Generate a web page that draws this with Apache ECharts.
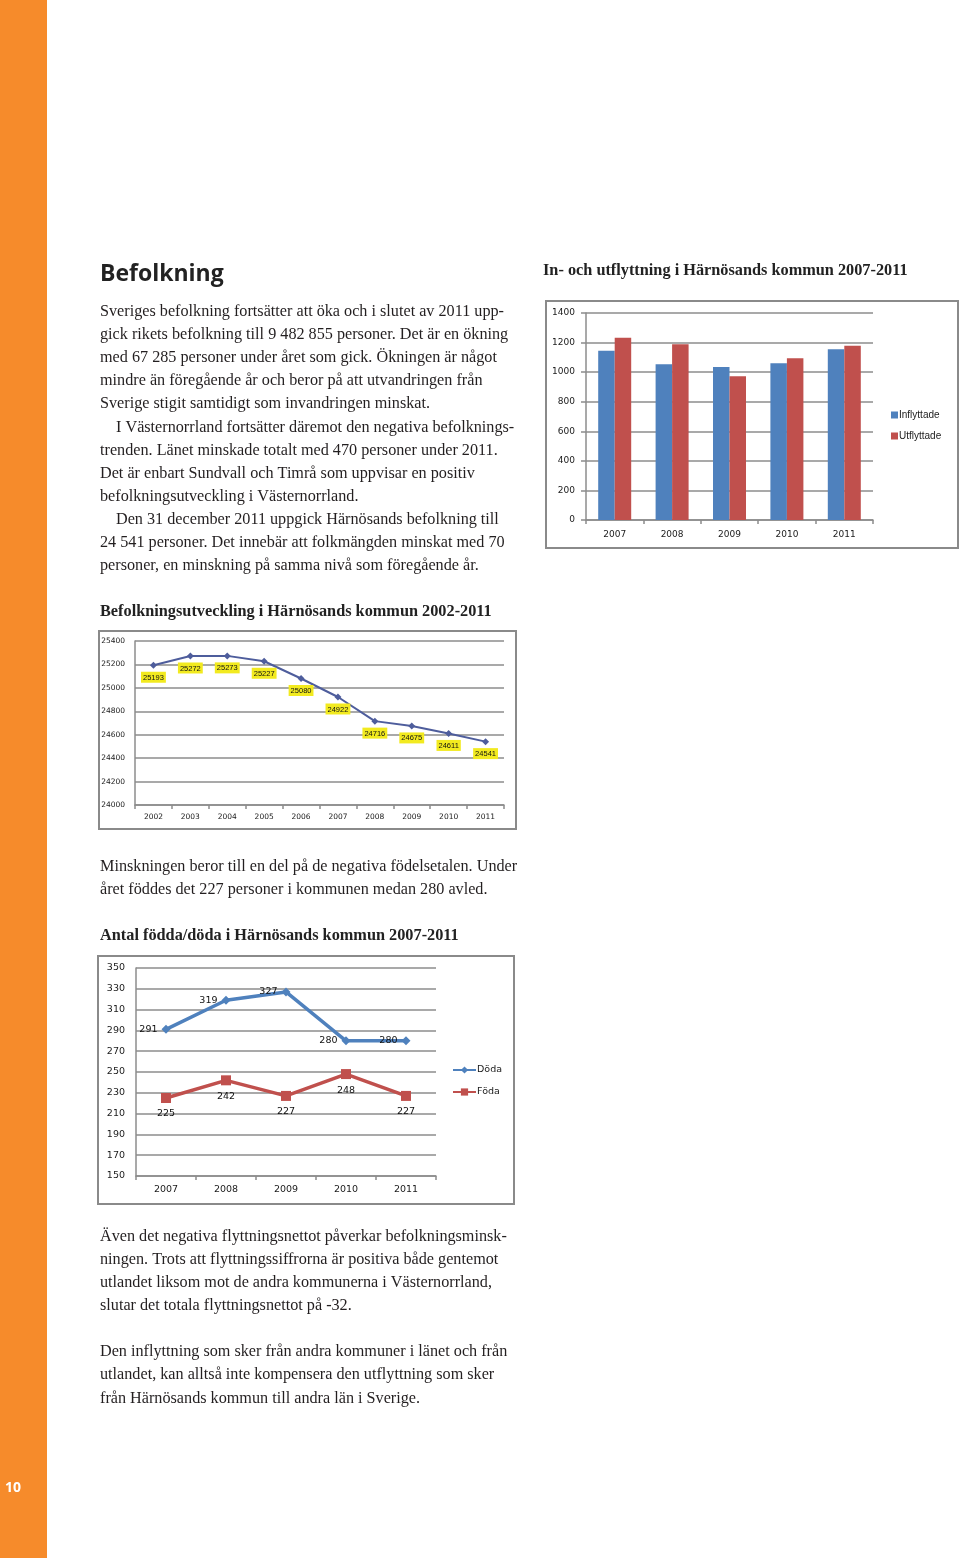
<!DOCTYPE html>
<html><head><meta charset="utf-8">
<script src="https://cdn.jsdelivr.net/npm/echarts@6/dist/echarts.min.js"></script>
<style>html,body{margin:0;padding:0;background:#fff}#c{width:960px;height:1558px}</style>
</head><body><div id="c"></div>
<script>
// ---- data ----
const barYears = ['2007', '2008', '2009', '2010', '2011'];
const inflyttade = [1145, 1053, 1035, 1060, 1155];
const utflyttade = [1233, 1188, 972, 1094, 1179];
const barTicks = [0, 200, 400, 600, 800, 1000, 1200, 1400];

const popYears = ['2002', '2003', '2004', '2005', '2006', '2007', '2008', '2009', '2010', '2011'];
const population = [25193, 25272, 25273, 25227, 25080, 24922, 24716, 24675, 24611, 24541];
const popTicks = [24000, 24200, 24400, 24600, 24800, 25000, 25200, 25400];

const vitalYears = ['2007', '2008', '2009', '2010', '2011'];
const doda = [291, 319, 327, 280, 280];
const foda = [225, 242, 227, 248, 227];
const vitalTicks = [150, 170, 190, 210, 230, 250, 270, 290, 310, 330, 350];

const heading = 'Befolkning';
const para1 = [
  ['Sveriges befolkning fortsätter att öka och i slutet av 2011 upp-', 0],
  ['gick rikets befolkning till 9 482 855 personer. Det är en ökning', 0],
  ['med 67 285 personer under året som gick. Ökningen är något', 0],
  ['mindre än föregående år och beror på att utvandringen från', 0],
  ['Sverige stigit samtidigt som invandringen minskat.', 0],
  ['I Västernorrland fortsätter däremot den negativa befolknings-', 16],
  ['trenden. Länet minskade totalt med 470 personer under 2011.', 0],
  ['Det är enbart Sundvall och Timrå som uppvisar en positiv', 0],
  ['befolkningsutveckling i Västernorrland.', 0],
  ['Den 31 december 2011 uppgick Härnösands befolkning till', 16],
  ['24 541 personer. Det innebär att folkmängden minskat med 70', 0],
  ['personer, en minskning på samma nivå som föregående år.', 0]
];
const para2 = [
  'Minskningen beror till en del på de negativa födelsetalen. Under',
  'året föddes det 227 personer i kommunen medan 280 avled.'
];
const para3 = [
  'Även det negativa flyttningsnettot påverkar befolkningsminsk-',
  'ningen. Trots att flyttningssiffrorna är positiva både gentemot',
  'utlandet liksom mot de andra kommunerna i Västernorrland,',
  'slutar det totala flyttningsnettot på -32.'
];
const para4 = [
  'Den inflyttning som sker från andra kommuner i länet och från',
  'utlandet, kan alltså inte kompensera den utflyttning som sker',
  'från Härnösands kommun till andra län i Sverige.'
];
const title1 = 'In- och utflyttning i Härnösands kommun 2007-2011';
const title2 = 'Befolkningsutveckling i Härnösands kommun 2002-2011';
const title3 = 'Antal födda/döda i Härnösands kommun 2007-2011';
const pageNo = '10';

// ---- styles ----
const SERIF = '"Liberation Serif", "DejaVu Serif", serif';
const BODY_SIZE = 16.2;
const TXT = '#231f20';
const GRIDC = '#8c8c8c';
const AX = '#1a1a1a';

const graphics = [];
graphics.push({type: 'rect', shape: {x: 0, y: 0, width: 47, height: 1558}, style: {fill: '#f68b2b'}, silent: true});
graphics.push({type: 'text', x: 5, y: 1488, style: {text: pageNo, fill: '#fff', font: 'bold 14px "Open Sans", sans-serif', textVerticalAlign: 'middle'}});
graphics.push({type: 'text', x: 100, y: 274, style: {text: heading, fill: '#222', font: 'bold 23px "Open Sans", sans-serif', textVerticalAlign: 'middle'}});
function addLines(lines, x0, y0, lh) {
  lines.forEach((l, i) => {
    const t = Array.isArray(l) ? l[0] : l;
    const dx = Array.isArray(l) ? l[1] : 0;
    graphics.push({type: 'text', x: x0 + dx, y: y0 + i * lh,
      style: {text: t, fill: TXT, font: BODY_SIZE + 'px ' + SERIF, textVerticalAlign: 'middle'}});
  });
}
addLines(para1, 100, 312, 23.05);
addLines(para2, 100, 867, 23);
addLines(para3, 100, 1237, 23);
addLines(para4, 100, 1352, 23.2);
function addTitle(t, x, y) {
  graphics.push({type: 'text', x: x, y: y, style: {text: t, fill: '#222', font: 'bold 16.3px ' + SERIF, textVerticalAlign: 'middle'}});
}
addTitle(title1, 543, 271);
addTitle(title2, 100, 612);
addTitle(title3, 100, 936);
function addBox(x, y, w, h) {
  graphics.push({type: 'rect', shape: {x: x, y: y, width: w, height: h}, style: {fill: 'none', stroke: '#8a8a8a', lineWidth: 2}, silent: true});
}
addBox(546, 301, 412, 247);
addBox(99, 631, 417, 198);
addBox(98, 956, 416, 248);

const plain = v => String(v);
function catAxis(idx, data, fs, margin) {
  return {type: 'category', gridIndex: idx, data: data, boundaryGap: true,
    axisLine: {show: true, lineStyle: {color: GRIDC, width: 1.5}},
    axisTick: {show: true, length: 4, alignWithLabel: false, lineStyle: {color: GRIDC, width: 1.5}},
    axisLabel: {color: AX, fontSize: fs, fontFamily: '"DejaVu Sans", sans-serif', margin: margin, interval: 0}};
}
function valAxis(idx, min, max, interval, fs, margin, tick) {
  return {type: 'value', gridIndex: idx, min: min, max: max, interval: interval,
    axisLine: {show: true, lineStyle: {color: GRIDC, width: 1.5}},
    axisTick: {show: tick, length: 5, lineStyle: {color: GRIDC, width: 1.5}},
    splitLine: {show: true, lineStyle: {color: GRIDC, width: 1.5}},
    axisLabel: {color: AX, fontSize: fs, fontFamily: '"DejaVu Sans", sans-serif', margin: margin, formatter: plain}};
}

const option = {
  animation: false,
  backgroundColor: '#fff',
  graphic: graphics,
  grid: [
    {left: 586, top: 313, width: 287, height: 207},
    {left: 135, top: 641, width: 369, height: 164},
    {left: 136, top: 968, width: 300, height: 208}
  ],
  xAxis: [
    catAxis(0, barYears, 9, 10),
    catAxis(1, popYears, 7.5, 8),
    catAxis(2, vitalYears, 9.5, 9)
  ],
  yAxis: [
    valAxis(0, barTicks[0], barTicks[barTicks.length - 1], 200, 9, 11, true),
    valAxis(1, popTicks[0], popTicks[popTicks.length - 1], 200, 7.5, 10, false),
    valAxis(2, vitalTicks[0], vitalTicks[vitalTicks.length - 1], 20, 9.5, 11, false)
  ],
  legend: [
    {data: ['Inflyttade', 'Utflyttade'], orient: 'vertical', left: 891, top: 410, padding: 0, itemWidth: 7, itemHeight: 7, itemGap: 11,
      icon: 'rect', textStyle: {fontSize: 10, fontFamily: '"Liberation Sans", sans-serif', color: AX, padding: [0, 0, 0, -4]}},
    {data: ['Döda', 'Föda'], orient: 'vertical', left: 452, top: 1065, padding: 0, itemWidth: 23, itemHeight: 9, itemGap: 12,
      textStyle: {fontSize: 9.5, fontFamily: '"DejaVu Sans", sans-serif', color: AX, padding: [0, 0, 0, -4]}}
  ],
  series: [
    {name: 'Inflyttade', type: 'bar', xAxisIndex: 0, yAxisIndex: 0, data: inflyttade, barWidth: 16.5, barGap: '0%',
      itemStyle: {color: '#4f81bd'}},
    {name: 'Utflyttade', type: 'bar', xAxisIndex: 0, yAxisIndex: 0, data: utflyttade, barWidth: 16.5, barGap: '0%',
      itemStyle: {color: '#c0504d'}},
    {name: 'Befolkning', type: 'line', xAxisIndex: 1, yAxisIndex: 1, data: population,
      symbol: 'diamond', symbolSize: 7, lineStyle: {color: '#4e5d9c', width: 2}, itemStyle: {color: '#4e5d9c'},
      label: {show: true, position: 'bottom', distance: 3, color: '#111', fontSize: 7.5, fontFamily: '"Liberation Sans", sans-serif',
        backgroundColor: '#f2ea1f', padding: [2, 2, 1, 2]}},
    {name: 'Döda', type: 'line', xAxisIndex: 2, yAxisIndex: 2, data: doda,
      symbol: 'diamond', symbolSize: 9, lineStyle: {color: '#4f81bd', width: 3.5}, itemStyle: {color: '#4f81bd'},
      label: {show: true, position: 'left', distance: 4, color: '#111', fontSize: 9.5, fontFamily: '"DejaVu Sans", sans-serif'}},
    {name: 'Föda', type: 'line', xAxisIndex: 2, yAxisIndex: 2, data: foda,
      symbol: 'rect', symbolSize: 10, lineStyle: {color: '#c0504d', width: 3.5}, itemStyle: {color: '#c0504d'},
      label: {show: true, position: 'bottom', distance: 6, color: '#111', fontSize: 9.5, fontFamily: '"DejaVu Sans", sans-serif'}}
  ]
};
const chart = echarts.init(document.getElementById('c'), null, {renderer: 'canvas'});
chart.setOption(option);
</script>
</body></html>
